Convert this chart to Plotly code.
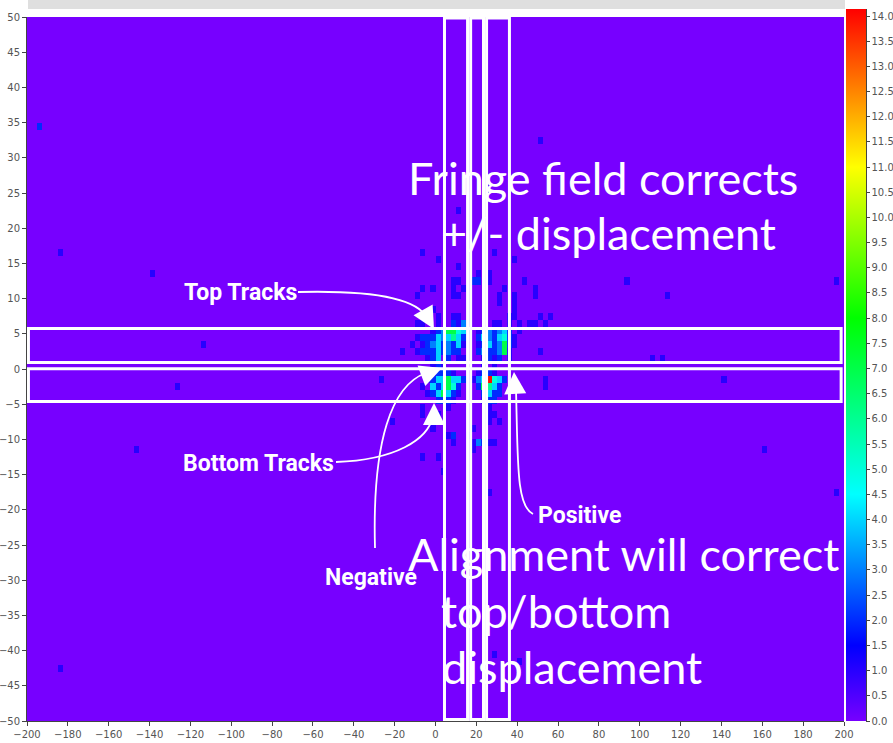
import numpy as np
import plotly.graph_objects as go

# ---------------------------------------------------------------
# 2D hit map: x bins of 2.5 units (-200..200), y bins of 1 unit (-50..50)
# Each row lists the lower y edge, the lower x edges of filled bins
# and their counts. Empty bins are zero.
# ---------------------------------------------------------------
row_y = [34, 32, 22, 16, 15, 14, 13, 12, 11, 10, 9, 8, 7, 6,
         5, 4, 3, 2, 1, 0, -1, -2, -3, -4, -5,
         -6, -7, -8, -9, -10, -11, -12, -13, -15, -18, -41, -42, -43]

row_x = [
    [-195],
    [50],
    [10],
    [-185, -7.5, 27.5],
    [0, 37.5],
    [10],
    [-140, 20, 25],
    [7.5, 10, 17.5, 20, 25, 42.5, 92.5, 195],
    [-7.5, -2.5, 7.5, 12.5, 32.5, 47.5],
    [-10, 7.5, 10, 30, 37.5, 47.5, 112.5],
    [30, 37.5],
    [-2.5, 37.5],
    [0, 7.5, 10, 35, 37.5, 50, 55],
    [-10, -7.5, 0, 7.5, 10, 12.5, 27.5, 30, 35, 40, 45, 47.5, 52.5],
    [-2.5, 0, 2.5, 5, 7.5, 10, 12.5, 15, 20, 22.5, 25, 27.5, 30, 32.5, 35, 40],
    [-10, -7.5, -5, -2.5, 0, 2.5, 5, 7.5, 10, 12.5, 20, 22.5, 25, 27.5, 30, 32.5, 35, 37.5],
    [-115, -12.5, -7.5, -5, -2.5, 0, 2.5, 5, 7.5, 10, 12.5, 20, 22.5, 25, 27.5, 30, 32.5, 35, 37.5],
    [-17.5, -10, -7.5, -5, -2.5, 0, 2.5, 5, 7.5, 10, 20, 22.5, 25, 27.5, 30, 32.5, 35, 50],
    [-5, -2.5, 0, 5, 10, 12.5, 22.5, 25, 27.5, 30, 35, 105, 110],
    [-2.5, 0, 2.5, 22.5, 27.5],
    [-2.5, 0, 2.5, 5, 7.5, 20, 22.5, 25, 27.5],
    [-27.5, -5, -2.5, 0, 2.5, 5, 7.5, 10, 12.5, 17.5, 20, 22.5, 25, 27.5, 30, 32.5, 52.5, 140],
    [-127.5, -7.5, -2.5, 0, 2.5, 5, 7.5, 10, 20, 22.5, 25, 27.5, 30, 52.5],
    [-5, -2.5, 0, 2.5, 5, 7.5, 10, 22.5, 25, 27.5, 30],
    [0, 2.5, 5, 7.5, 22.5, 25, 27.5],
    [-7.5, 5, 25],
    [-7.5, 0, 25, 27.5],
    [-22.5, 0, 25, 30],
    [-2.5, 17.5],
    [5, 7.5, 15],
    [7.5, 17.5, 20, 22.5, 25, 27.5],
    [-147.5, 17.5, 160],
    [-7.5, 0],
    [2.5],
    [25, 195],
    [27.5],
    [40],
    [-185],
]

row_n = [
    [2],
    [1],
    [1],
    [1, 1, 1],
    [1, 1],
    [1],
    [1, 1, 1],
    [1, 1, 2, 2, 1, 1, 1, 1],
    [1, 1, 1, 1, 1, 1],
    [1, 1, 1, 1, 1, 1, 1],
    [1, 1],
    [1, 1],
    [1, 1, 1, 1, 1, 1, 1],
    [1, 1, 1, 2, 1, 3, 1, 1, 1, 1, 1, 1, 1],
    [1, 2, 3, 7, 7, 5, 4, 2, 1, 2, 3, 2, 3, 4, 2, 1],
    [1, 2, 2, 2, 4, 3, 4, 6, 4, 2, 2, 4, 3, 2, 4, 5, 2, 1],
    [1, 1, 1, 2, 3, 4, 2, 3, 2, 4, 1, 1, 2, 4, 2, 3, 7, 2, 1],
    [1, 1, 2, 2, 2, 4, 2, 3, 2, 2, 2, 3, 2, 2, 3, 7, 1, 1],
    [1, 2, 4, 2, 1, 1, 1, 2, 1, 2, 1, 1, 1],
    [1, 2, 1, 1, 1],
    [1, 2, 2, 2, 1, 1, 2, 2, 1],
    [1, 1, 2, 4, 4, 7, 4, 4, 2, 1, 3, 4, 14, 5, 4, 2, 1, 1],
    [1, 1, 4, 2, 4, 7, 5, 2, 2, 7, 6, 4, 2, 1],
    [1, 2, 4, 7, 4, 2, 1, 2, 4, 2, 2],
    [2, 2, 2, 1, 1, 2, 2],
    [1, 1, 1],
    [1, 1, 1, 1],
    [1, 1, 1, 1],
    [1, 1],
    [1, 2, 1],
    [1, 1, 3, 2, 1, 1],
    [1, 1, 1],
    [1, 1],
    [1],
    [1, 1],
    [1],
    [1],
    [1],
]

X_MIN, X_MAX, X_BIN = -200.0, 200.0, 2.5
Y_MIN, Y_MAX, Y_BIN = -50.0, 50.0, 1.0
nx = int(round((X_MAX - X_MIN) / X_BIN))
ny = int(round((Y_MAX - Y_MIN) / Y_BIN))

z = np.zeros((ny, nx))
for yv, xs, ns in zip(row_y, row_x, row_n):
    iy = int(round((yv - Y_MIN) / Y_BIN))
    for xv, nv in zip(xs, ns):
        ix = int(round((xv - X_MIN) / X_BIN))
        z[iy, ix] = nv

x_centers = X_MIN + X_BIN * (np.arange(nx) + 0.5)
y_centers = Y_MIN + Y_BIN * (np.arange(ny) + 0.5)

Z_MAX = 14.14
rainbow = [
    [0.0, "#7700ff"],
    [1.5 / Z_MAX, "#0000ff"],
    [4.5 / Z_MAX, "#00ffff"],
    [8.0 / Z_MAX, "#00ff00"],
    [11.0 / Z_MAX, "#ffff00"],
    [1.0, "#ff0000"],
]

# canvas / plot-area geometry (pixels)
W, H = 893, 743
ML, MR, MT, MB = 27, 49, 17, 22
PW, PH = W - ML - MR, H - MT - MB


def at(px, py):
    """Screen pixel -> axis units, used for the hand-drawn overlay."""
    return (X_MIN + (px - ML) / PW * (X_MAX - X_MIN),
            Y_MAX - (py - MT) / PH * (Y_MAX - Y_MIN))


def pfx(px):
    return (px - ML) / PW


def pfy(py):
    return (H - MB - py) / PH


fig = go.Figure()
fig.add_trace(go.Heatmap(
    x=x_centers, y=y_centers, z=z,
    zmin=0, zmax=Z_MAX, colorscale=rainbow, zsmooth=False,
    hoverinfo="skip",
    colorbar=dict(
        x=pfx(846), xanchor="left", xpad=0,
        y=pfy(721), yanchor="bottom", ypad=0,
        len=(721 - 9) / PH, lenmode="fraction",
        thickness=20, outlinewidth=0,
        tickmode="linear", tick0=0, dtick=0.5, tickformat=".1f",
        ticks="outside", ticklen=4, tickcolor="#444",
        tickfont=dict(family="DejaVu Sans", size=10, color="#555"),
    ),
))

axis_common = dict(
    showgrid=False, zeroline=False, showline=True, linecolor="#444",
    linewidth=1, ticks="outside", ticklen=4, tickcolor="#444",
    automargin=False,
    tickfont=dict(family="DejaVu Sans", size=10, color="#555"),
)

shapes = []
# window strip along the top
shapes.append(dict(type="rect", xref="paper", yref="paper",
                   x0=pfx(28), x1=pfx(845), y0=pfy(9), y1=pfy(0),
                   fillcolor="#dfdfdf", line=dict(width=0), layer="above"))
# colour-bar axis line
shapes.append(dict(type="line", xref="paper", yref="paper",
                   x0=pfx(866.5), x1=pfx(866.5), y0=pfy(721), y1=pfy(9),
                   line=dict(color="#444", width=1)))

white = dict(color="white", width=3)
# horizontal selection boxes (top tracks / bottom tracks)
for y0, y1 in [(0.92, 5.75), (-4.6, 0.05)]:
    shapes.append(dict(type="rect", xref="x", yref="y", x0=-199.3, x1=198.6,
                       y0=y0, y1=y1, line=white))
# vertical selection boxes
for x0, x1 in [(4.4, 15.7), (17.2, 23.5), (25.0, 36.2)]:
    shapes.append(dict(type="rect", xref="x", yref="y", x0=x0, x1=x1,
                       y0=-49.8, y1=49.85, line=white))


def curve(points):
    """Cubic Bezier through screen points: start, c1, c2, end."""
    d = [at(*p) for p in points]
    return (f"M {d[0][0]},{d[0][1]} C {d[1][0]},{d[1][1]} "
            f"{d[2][0]},{d[2][1]} {d[3][0]},{d[3][1]}")


callouts = [
    # (start, c1, c2, end), arrow tip, tail offset (px)
    ([(298, 292), (380, 290), (418, 300), (427, 318)], (434, 329), (-8, -14)),
    ([(336, 462), (395, 460), (428, 440), (433, 416)], (434, 403), (0, 16)),
    ([(375, 548), (372, 440), (392, 385), (426, 373)], (442, 368), (-16, 6)),
    ([(533, 514), (516, 506), (518, 460), (516, 390)], (514, 372), (1, 18)),
]

annotations = []
for pts, tip, (ax, ay) in callouts:
    shapes.append(dict(type="path", xref="x", yref="y", path=curve(pts),
                       line=dict(color="white", width=1.8)))
    tx, ty = at(*tip)
    annotations.append(dict(x=tx, y=ty, xref="x", yref="y", text="",
                            showarrow=True, arrowhead=2, arrowsize=2.2,
                            arrowwidth=2, arrowcolor="white",
                            ax=ax, ay=ay, standoff=0))

label_font = dict(family="Roboto", size=23, color="white")
for text, cx, cy in [("Top Tracks", 240, 292), ("Bottom Tracks", 258, 463),
                     ("Negative", 371, 577), ("Positive", 579, 515)]:
    lx, ly = at(cx, cy)
    annotations.append(dict(x=lx, y=ly, xref="x", yref="y",
                            text=f"<b>{text}</b>", showarrow=False,
                            font=label_font, xanchor="center", yanchor="middle"))

big_font = dict(family="Lato, Open Sans", size=45, color="white")
for text, left, cy in [("Fringe field corrects", 406, 178),
                       ("+/- displacement", 439, 233),
                       ("Alignment will correct", 406, 554),
                       ("top/bottom", 439, 611),
                       ("displacement", 440, 667)]:
    lx, ly = at(left, cy)
    annotations.append(dict(x=lx, y=ly, xref="x", yref="y", text=text,
                            showarrow=False, font=big_font,
                            xanchor="left", yanchor="middle"))

fig.update_layout(
    width=W, height=H,
    margin=dict(l=ML, r=MR, t=MT, b=MB, autoexpand=False),
    paper_bgcolor="white", plot_bgcolor="white",
    xaxis=dict(range=[X_MIN, X_MAX], tick0=-200, dtick=20, **axis_common),
    yaxis=dict(range=[Y_MIN, Y_MAX], tick0=-50, dtick=5, **axis_common),
    shapes=shapes, annotations=annotations, showlegend=False,
)

fig.write_html("out.html")
